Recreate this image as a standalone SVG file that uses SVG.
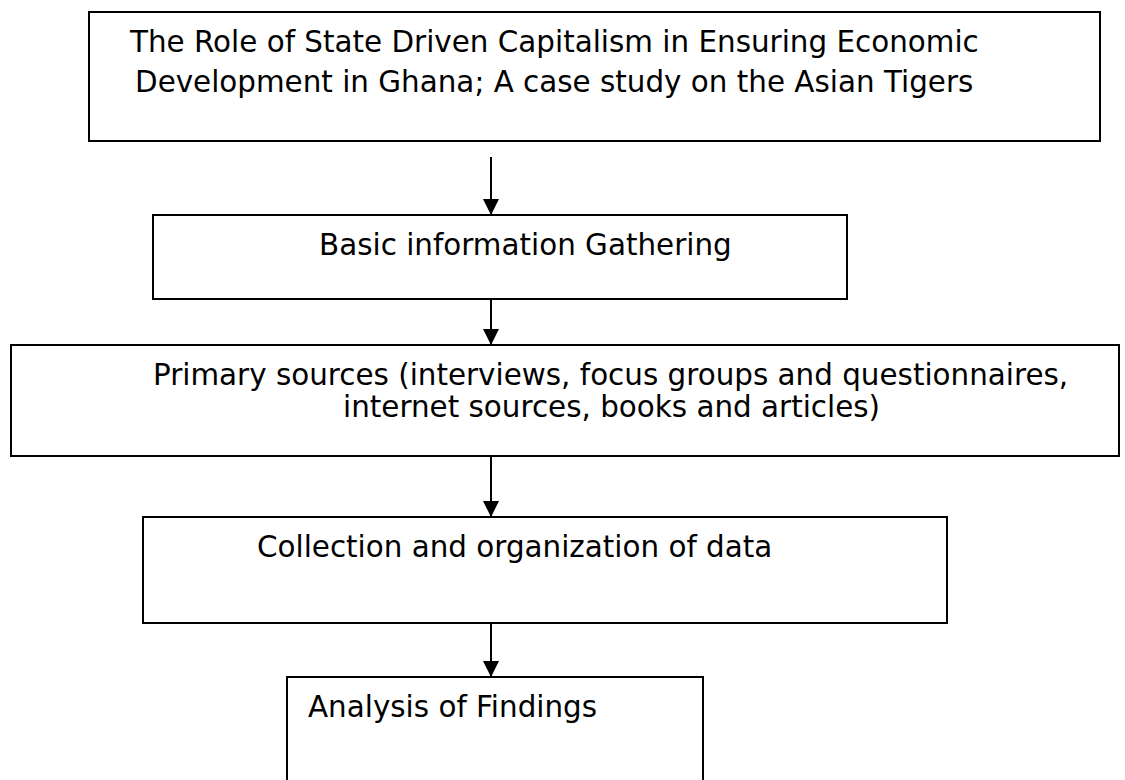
<svg xmlns="http://www.w3.org/2000/svg" width="1125" height="780" viewBox="0 0 1125 780">
<style>
.box{fill:#fff;stroke:#000;stroke-width:2}
.t{font-family:"DejaVu Sans",Verdana,sans-serif;font-size:29.4px;fill:#000}
.c{stroke:#000;stroke-width:2;fill:none}
</style>
<defs>
<marker id="ah" markerUnits="userSpaceOnUse" markerWidth="18" markerHeight="16" refX="16" refY="8" orient="auto">
<path d="M0,0 L16,8 L0,16 Z" fill="#000"/>
</marker>
</defs>
<rect width="1125" height="780" fill="#fff"/>
<g id="n1">
<rect class="box" x="89" y="12" width="1011" height="129"/>
<text class="t" x="130" y="52">The Role of State Driven Capitalism in Ensuring Economic</text>
<text class="t" x="135" y="92">Development in Ghana; A case study on the Asian Tigers</text>
</g>
<g id="n2">
<rect class="box" x="153" y="215" width="694" height="84"/>
<text class="t" x="319" y="255">Basic information Gathering</text>
</g>
<g id="n3">
<rect class="box" x="11" y="345" width="1108" height="111"/>
<text class="t" x="153" y="385">Primary sources (interviews, focus groups and questionnaires,</text>
<text class="t" x="343" y="417">internet sources, books and articles)</text>
</g>
<g id="n4">
<rect class="box" x="143" y="517" width="804" height="106"/>
<text class="t" x="257" y="557">Collection and organization of data</text>
</g>
<g id="n5">
<rect class="box" x="287" y="677" width="416" height="120"/>
<text class="t" x="308" y="717">Analysis of Findings</text>
</g>
<g id="connectors">
<line class="c" x1="491" y1="157" x2="491" y2="215" marker-end="url(#ah)"/>
<line class="c" x1="491" y1="299" x2="491" y2="345" marker-end="url(#ah)"/>
<line class="c" x1="491" y1="456" x2="491" y2="517" marker-end="url(#ah)"/>
<line class="c" x1="491" y1="623" x2="491" y2="677" marker-end="url(#ah)"/>
</g>
</svg>
